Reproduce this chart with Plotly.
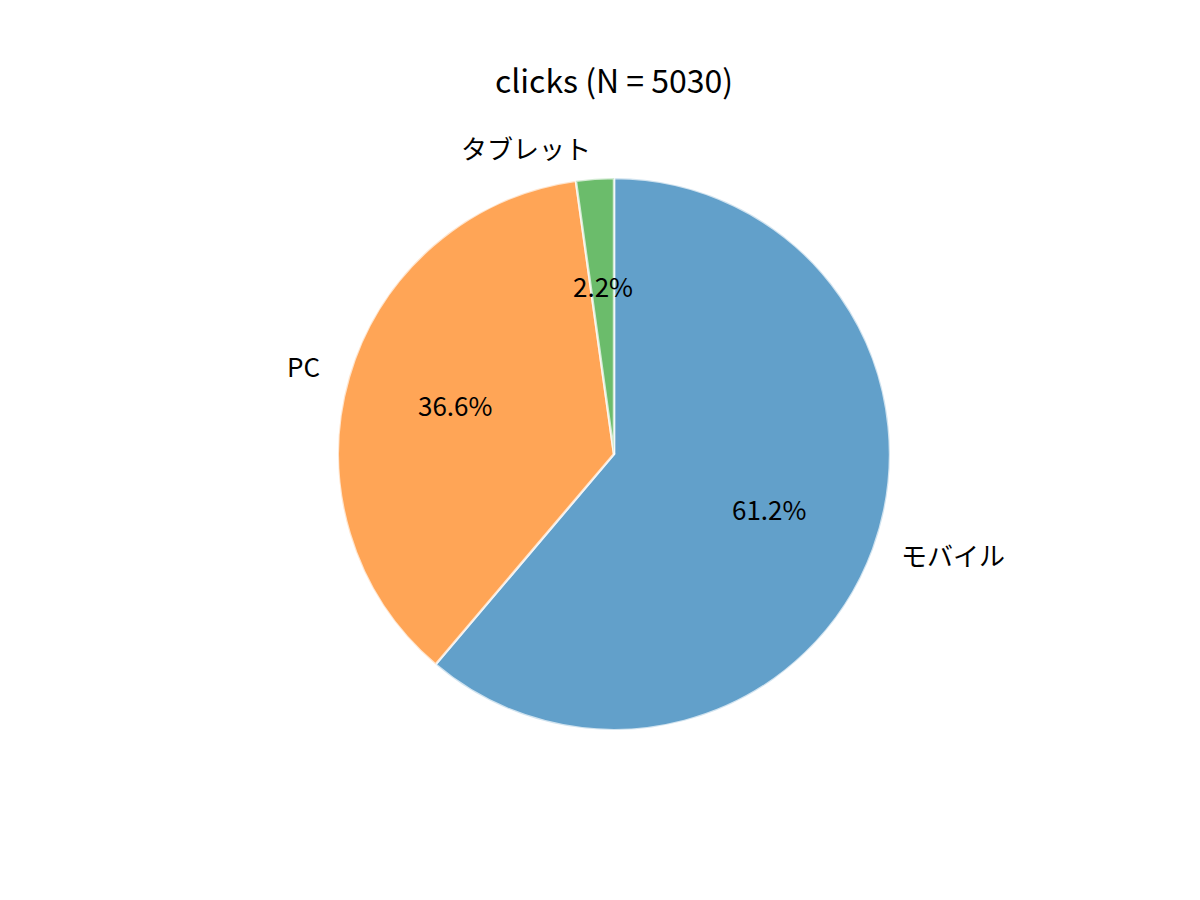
import numpy as np
import plotly.graph_objects as go

# data
labels = ["モバイル", "PC", "タブレット"]
clicks = [3078, 1841, 111]
colors = ["#62a0ca", "#ffa556", "#6bbc6b"]  # tab10 at alpha 0.7 on white

W, H = 1200, 900
# pie centre / radius in pixels (from top-left of the figure; page adds 8px margin)
cx, cy, r = 606, 446, 276
font = "Noto Sans CJK JP"

total = sum(clicks)
fig = go.Figure()
fig.add_trace(
    go.Pie(
        labels=labels,
        values=clicks,
        sort=False,
        direction="clockwise",
        rotation=0,
        marker=dict(colors=colors, line=dict(color="rgba(255,255,255,0.7)", width=2.5)),
        textinfo="none",
        hoverinfo="label+percent",
        showlegend=False,
        domain=dict(
            x=[(cx - r) / W, (cx + r) / W],
            y=[(H - cy - r) / H, (H - cy + r) / H],
        ),
    )
)

# matplotlib-style labels: names at 1.1 r, percentages at 0.6 r
annotations = []
start = 90.0
for lab, v in zip(labels, clicks):
    frac = v / total
    mid = np.radians(start - frac * 360 / 2)
    start -= frac * 360
    c, s = np.cos(mid), np.sin(mid)
    lx, ly = cx + 1.1 * r * c, cy - 1.1 * r * s
    px_, py_ = cx + 0.6 * r * c, cy - 0.6 * r * s
    annotations.append(dict(
        x=lx / W, y=1 - ly / H, xref="paper", yref="paper", text=lab,
        showarrow=False, xanchor="left" if c > 0 else "right", yanchor="middle",
        yshift=4, font=dict(size=26, color="black", family=font),
    ))
    annotations.append(dict(
        x=px_ / W, y=1 - py_ / H, xref="paper", yref="paper", text=f"{frac * 100:.1f}%",
        showarrow=False, xanchor="center", yanchor="middle",
        yshift=3, font=dict(size=26, color="black", family=font),
    ))

fig.update_layout(
    width=W,
    height=H,
    margin=dict(l=0, r=0, t=0, b=0),
    paper_bgcolor="white",
    font=dict(family=font),
    title=dict(
        text=f"clicks (N = {total})",
        x=cx / W, xanchor="center", y=1 - 74 / H, yanchor="middle",
        font=dict(size=32, color="black", family=font),
    ),
    annotations=annotations,
)

fig.write_html("out.html")
